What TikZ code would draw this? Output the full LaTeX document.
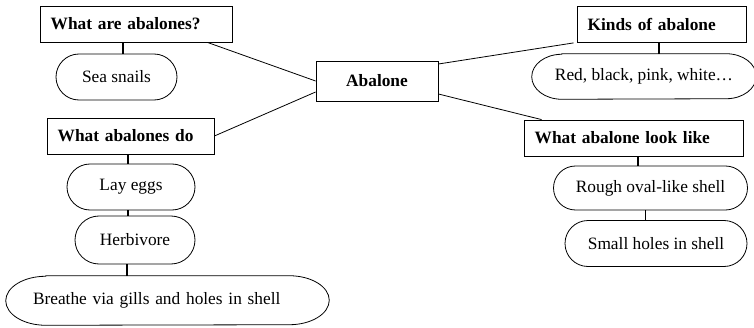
\documentclass[tikz,border=0pt]{standalone}
\usepackage{fontspec}
\setmainfont{Liberation Serif}
\usetikzlibrary{shapes.misc}

\tikzset{
  topicbox/.style={draw, rectangle, line width=0.6pt, inner xsep=8pt, inner ysep=0pt,
    minimum height=27pt, align=left, font=\fontsize{13}{15}\selectfont\bfseries},
  ideabox/.style={draw, rounded rectangle, line width=0.6pt, inner sep=0pt,
    font=\fontsize{13}{15}\selectfont},
  longidea/.style={rectangle, inner sep=0pt, font=\fontsize{13}{15}\selectfont},
  stem/.style={line width=1.2pt},
  branch/.style={line width=0.6pt}
}

\begin{document}
\begin{tikzpicture}[x=0.75pt,y=0.75pt,yscale=-1,xscale=1]
\useasboundingbox (0,0) rectangle (754,328);

% centre
\draw (377,81) node [topicbox, align=center, minimum width=91.5pt, minimum height=30pt] (abalone) {Abalone};

% left side
\draw (136,24) node [topicbox, text width=128pt] (whatare) {What are abalones?};
\draw (116.5,77) node [ideabox, minimum width=90.75pt, minimum height=34.5pt] (snails) {Sea snails};

\draw (130.5,136) node [topicbox, text width=109.25pt] (whatdo) {What abalones do};
\draw (131,187) node [ideabox, minimum width=96pt, minimum height=34.5pt] (eggs) {Lay eggs};
\draw (135,240) node [ideabox, minimum width=90pt, minimum height=36pt] (herbivore) {Herbivore};
\draw (167.5,300.5) node [longidea, text width=201.75pt, align=left, minimum width=242.25pt, minimum height=36.75pt] (breathe) {Breathe via gills and holes in shell};
\draw [line width=0.6pt] ([shift={(40,0)}]breathe.north west) -- ([shift={(-40,0)}]breathe.north east)
  arc [start angle=-90, end angle=90, x radius=40, y radius=24.5]
  -- ([shift={(40,0)}]breathe.south west)
  arc [start angle=90, end angle=270, x radius=40, y radius=24.5] -- cycle;

% right side
\draw (661.5,24.5) node [topicbox, text width=110.75pt] (kinds) {Kinds of abalone};
\draw (644,76.5) node [longidea, minimum width=168pt, minimum height=33.75pt] (colours) {Red, black, pink, white…};
\draw [line width=0.6pt] ([shift={(30,0)}]colours.north west) -- ([shift={(-30,0)}]colours.north east)
  arc [start angle=-90, end angle=90, x radius=30, y radius=22.5]
  -- ([shift={(30,0)}]colours.south west)
  arc [start angle=90, end angle=270, x radius=30, y radius=22.5] -- cycle;

\draw (633.5,138) node [topicbox, text width=148.25pt] (looks) {What abalone look like};
\draw (650.5,188) node [ideabox, minimum width=145.5pt, minimum height=33pt] (rough) {Rough oval-like shell};
\draw (656,243.5) node [ideabox, minimum width=136.5pt, minimum height=34.5pt] (holes) {Small holes in shell};

% branches from the centre
\draw [branch] ([shift={(-25,0)}]whatare.south east) -- (abalone.west);
\draw [branch] (whatdo.east) -- ([shift={(0,11)}]abalone.west);
\draw [branch] ([shift={(0,-17)}]abalone.east) -- ([shift={(-3,0)}]kinds.south west);
\draw [branch] ([shift={(0,13)}]abalone.east) -- ([shift={(18,0)}]looks.north west);

% stems
\draw [stem] ([shift={(6.5,0)}]snails.north) -- ([shift={(6.5,0)}]snails.north |- whatare.south);
\draw [stem] ([shift={(-3,0)}]eggs.north) -- ([shift={(-3,0)}]eggs.north |- whatdo.south);
\draw [stem] ([shift={(-7,0)}]herbivore.north) -- ([shift={(-7,0)}]herbivore.north |- eggs.south);
\draw [stem] ([shift={(-8,0)}]herbivore.south) -- ([shift={(-8,0)}]herbivore.south |- breathe.north);
\draw [stem] ([shift={(15,0)}]colours.north) -- ([shift={(15,0)}]colours.north |- kinds.south);
\draw [stem] ([shift={(-12.5,0)}]rough.north) -- ([shift={(-12.5,0)}]rough.north |- looks.south);
\draw [stem] ([shift={(-10.5,0)}]holes.north) -- ([shift={(-10.5,0)}]holes.north |- rough.south);

\end{tikzpicture}
\end{document}
